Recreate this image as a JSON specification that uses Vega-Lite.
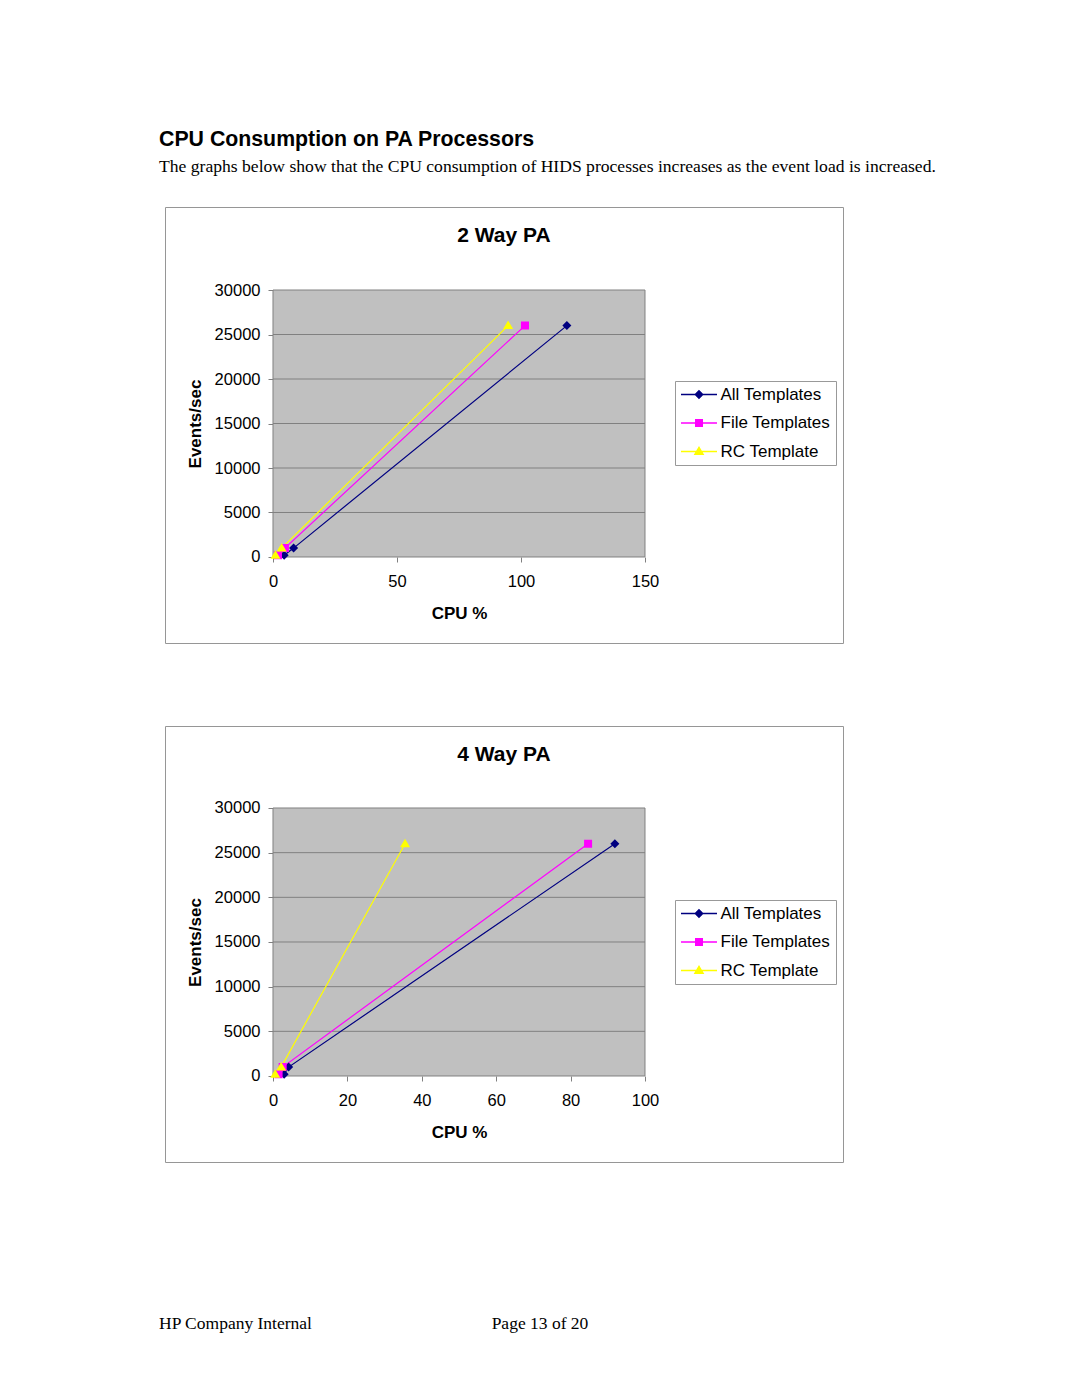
{
  "$schema": "https://vega.github.io/schema/vega-lite/v6.json",
  "background": "white",
  "padding": {"left": 159, "top": 129, "right": 0, "bottom": 0},
  "title": {
    "text": "CPU Consumption on PA Processors",
    "subtitle": "The graphs below show that the CPU consumption of HIDS processes increases as the event load is increased.",
    "anchor": "start",
    "offset": 31,
    "font": "Liberation Sans",
    "fontSize": 21.3,
    "fontWeight": "bold",
    "color": "black",
    "subtitleFont": "Liberation Serif",
    "subtitleFontSize": 17.6,
    "subtitleColor": "black",
    "subtitlePadding": 7.2
  },
  "datasets": {
    "twoway": [
      {"series": "All Templates", "cpu": 4.5, "events": 200},
      {"series": "All Templates", "cpu": 8.3, "events": 1000},
      {"series": "All Templates", "cpu": 118.5, "events": 26000},
      {"series": "File Templates", "cpu": 2.0, "events": 200},
      {"series": "File Templates", "cpu": 4.8, "events": 1000},
      {"series": "File Templates", "cpu": 101.6, "events": 26000},
      {"series": "RC Template", "cpu": 1.0, "events": 200},
      {"series": "RC Template", "cpu": 3.5, "events": 1000},
      {"series": "RC Template", "cpu": 94.8, "events": 26000}
    ],
    "fourway": [
      {"series": "All Templates", "cpu": 3.0, "events": 200},
      {"series": "All Templates", "cpu": 4.2, "events": 1000},
      {"series": "All Templates", "cpu": 91.9, "events": 26000},
      {"series": "File Templates", "cpu": 1.5, "events": 200},
      {"series": "File Templates", "cpu": 2.6, "events": 1000},
      {"series": "File Templates", "cpu": 84.7, "events": 26000},
      {"series": "RC Template", "cpu": 0.6, "events": 200},
      {"series": "RC Template", "cpu": 2.2, "events": 1000},
      {"series": "RC Template", "cpu": 35.5, "events": 26000}
    ],
    "grid": [
      {"g": 5000}, {"g": 10000}, {"g": 15000}, {"g": 20000}, {"g": 25000}
    ]
  },
  "spacing": 83,
  "bounds": "flush",
  "resolve": {"scale": {"color": "independent", "shape": "independent", "stroke": "independent"}},
  "vconcat": [
    {
      "width": 678,
      "height": 436,
      "view": {"stroke": "#969696", "strokeWidth": 1, "fill": "white"},
      "title": {"text": "2 Way PA", "font": "Liberation Sans", "fontSize": 21, "fontWeight": "bold", "color": "black", "offset": -39, "anchor": "middle"},
      "layer": [
        {
          "data": {"values": [{}]},
          "mark": {"type": "rect", "fill": "#C0C0C0", "stroke": "#808080", "strokeWidth": 1},
          "encoding": {
            "x": {"datum": 0, "type": "quantitative", "scale": {"domain": [-43.548, 229.839], "nice": false, "zero": false}},
            "x2": {"datum": 150},
            "y": {"datum": 0, "type": "quantitative", "scale": {"domain": [-9663, 39326], "nice": false, "zero": false}},
            "y2": {"datum": 30000}
          }
        },
        {
          "data": {"name": "grid"},
          "mark": {"type": "rule", "color": "#808080", "strokeWidth": 1},
          "encoding": {
            "x": {"datum": 0, "type": "quantitative"},
            "x2": {"datum": 150},
            "y": {"field": "g", "type": "quantitative"}
          }
        },
        {
          "data": {"name": "twoway"},
          "mark": {"type": "line", "strokeWidth": 1.2},
          "encoding": {
            "x": {"field": "cpu", "type": "quantitative", "scale": {"domain": [-43.548, 229.839], "nice": false, "zero": false},
              "axis": {"values": [0, 50, 100, 150], "format": "d", "offset": -86, "domain": false, "grid": false, "ticks": true, "tickSize": 5, "tickColor": "#808080", "tickWidth": 1, "labelFont": "Liberation Sans", "labelFontSize": 16.5, "labelColor": "black", "labelPadding": 11, "labelFlush": false, "title": "CPU %", "titleFont": "Liberation Sans", "titleFontSize": 17, "titleFontWeight": "bold", "titleColor": "black", "titleX": 294, "titlePadding": 16}},
            "y": {"field": "events", "type": "quantitative", "scale": {"domain": [-9663, 39326], "nice": false, "zero": false},
              "axis": {"values": [0, 5000, 10000, 15000, 20000, 25000, 30000], "format": "d", "offset": -108, "domain": false, "grid": false, "ticks": true, "tickSize": 5, "tickColor": "#808080", "tickWidth": 1, "labelFont": "Liberation Sans", "labelFontSize": 16.5, "labelColor": "black", "labelPadding": 8, "title": "Events/sec", "titleFont": "Liberation Sans", "titleFontSize": 17, "titleFontWeight": "bold", "titleColor": "black", "titleY": 216.5, "titlePadding": 10}},
            "stroke": {"field": "series", "type": "nominal", "scale": {"domain": ["All Templates", "File Templates", "RC Template"], "range": ["#000080", "#FF00FF", "#FFFF00"]},
              "legend": {"title": null, "orient": "none", "legendX": 510, "legendY": 174, "direction": "vertical", "padding": 5, "strokeColor": "#999999", "fillColor": "white", "labelFont": "Liberation Sans", "labelFontSize": 17, "labelColor": "black", "labelOffset": 13, "symbolOffset": 10.5, "symbolSize": 196, "symbolStrokeWidth": 1.3, "rowPadding": 10.5, "labelLimit": 0}}
          }
        },
        {
          "data": {"name": "twoway"},
          "mark": {"type": "point", "filled": true, "opacity": 1, "size": 280},
          "encoding": {
            "x": {"field": "cpu", "type": "quantitative"},
            "y": {"field": "events", "type": "quantitative"},
            "color": {"field": "series", "type": "nominal", "scale": {"domain": ["All Templates", "File Templates", "RC Template"], "range": ["#000080", "#FF00FF", "#FFFF00"]},
              "legend": {"title": null, "orient": "none", "legendX": 510, "legendY": 174, "direction": "vertical", "padding": 5, "strokeColor": "#999999", "fillColor": "white", "labelFont": "Liberation Sans", "labelFontSize": 17, "labelColor": "black", "labelOffset": 13, "symbolOffset": 10.5, "symbolSize": 196, "symbolStrokeWidth": 1.3, "rowPadding": 10.5, "labelLimit": 0}},
            "shape": {"field": "series", "type": "nominal", "scale": {"domain": ["All Templates", "File Templates", "RC Template"], "range": ["M-2.571,0H2.571M-0.54,0L0,-0.54L0.54,0L0,0.54Z", "M-2.571,0H2.571M-0.48,-0.48H0.48V0.48H-0.48Z", "M-2.571,0H2.571M-0.6,0.42L0,-0.6L0.6,0.42Z"]},
              "legend": {"title": null, "orient": "none", "legendX": 510, "legendY": 174, "direction": "vertical", "padding": 5, "strokeColor": "#999999", "fillColor": "white", "labelFont": "Liberation Sans", "labelFontSize": 17, "labelColor": "black", "labelOffset": 13, "symbolOffset": 10.5, "symbolSize": 196, "symbolStrokeWidth": 1.3, "rowPadding": 10.5, "labelLimit": 0}}
          }
        }
      ]
    },
    {
      "width": 678,
      "height": 436,
      "view": {"stroke": "#969696", "strokeWidth": 1, "fill": "white"},
      "title": {"text": "4 Way PA", "font": "Liberation Sans", "fontSize": 21, "fontWeight": "bold", "color": "black", "offset": -39, "anchor": "middle"},
      "layer": [
        {
          "data": {"values": [{}]},
          "mark": {"type": "rect", "fill": "#C0C0C0", "stroke": "#808080", "strokeWidth": 1},
          "encoding": {
            "x": {"datum": 0, "type": "quantitative", "scale": {"domain": [-29.032, 153.226], "nice": false, "zero": false}},
            "x2": {"datum": 100},
            "y": {"datum": 0, "type": "quantitative", "scale": {"domain": [-9627, 39179], "nice": false, "zero": false}},
            "y2": {"datum": 30000}
          }
        },
        {
          "data": {"name": "grid"},
          "mark": {"type": "rule", "color": "#808080", "strokeWidth": 1},
          "encoding": {
            "x": {"datum": 0, "type": "quantitative"},
            "x2": {"datum": 100},
            "y": {"field": "g", "type": "quantitative"}
          }
        },
        {
          "data": {"name": "fourway"},
          "mark": {"type": "line", "strokeWidth": 1.2},
          "encoding": {
            "x": {"field": "cpu", "type": "quantitative", "scale": {"domain": [-29.032, 153.226], "nice": false, "zero": false},
              "axis": {"values": [0, 20, 40, 60, 80, 100], "format": "d", "offset": -86, "domain": false, "grid": false, "ticks": true, "tickSize": 5, "tickColor": "#808080", "tickWidth": 1, "labelFont": "Liberation Sans", "labelFontSize": 16.5, "labelColor": "black", "labelPadding": 11, "labelFlush": false, "title": "CPU %", "titleFont": "Liberation Sans", "titleFontSize": 17, "titleFontWeight": "bold", "titleColor": "black", "titleX": 294, "titlePadding": 16}},
            "y": {"field": "events", "type": "quantitative", "scale": {"domain": [-9627, 39179], "nice": false, "zero": false},
              "axis": {"values": [0, 5000, 10000, 15000, 20000, 25000, 30000], "format": "d", "offset": -108, "domain": false, "grid": false, "ticks": true, "tickSize": 5, "tickColor": "#808080", "tickWidth": 1, "labelFont": "Liberation Sans", "labelFontSize": 16.5, "labelColor": "black", "labelPadding": 8, "title": "Events/sec", "titleFont": "Liberation Sans", "titleFontSize": 17, "titleFontWeight": "bold", "titleColor": "black", "titleY": 216, "titlePadding": 10}},
            "stroke": {"field": "series", "type": "nominal", "scale": {"domain": ["All Templates", "File Templates", "RC Template"], "range": ["#000080", "#FF00FF", "#FFFF00"]},
              "legend": {"title": null, "orient": "none", "legendX": 510, "legendY": 174, "direction": "vertical", "padding": 5, "strokeColor": "#999999", "fillColor": "white", "labelFont": "Liberation Sans", "labelFontSize": 17, "labelColor": "black", "labelOffset": 13, "symbolOffset": 10.5, "symbolSize": 196, "symbolStrokeWidth": 1.3, "rowPadding": 10.5, "labelLimit": 0}}
          }
        },
        {
          "data": {"name": "fourway"},
          "mark": {"type": "point", "filled": true, "opacity": 1, "size": 280},
          "encoding": {
            "x": {"field": "cpu", "type": "quantitative"},
            "y": {"field": "events", "type": "quantitative"},
            "color": {"field": "series", "type": "nominal", "scale": {"domain": ["All Templates", "File Templates", "RC Template"], "range": ["#000080", "#FF00FF", "#FFFF00"]},
              "legend": {"title": null, "orient": "none", "legendX": 510, "legendY": 174, "direction": "vertical", "padding": 5, "strokeColor": "#999999", "fillColor": "white", "labelFont": "Liberation Sans", "labelFontSize": 17, "labelColor": "black", "labelOffset": 13, "symbolOffset": 10.5, "symbolSize": 196, "symbolStrokeWidth": 1.3, "rowPadding": 10.5, "labelLimit": 0}},
            "shape": {"field": "series", "type": "nominal", "scale": {"domain": ["All Templates", "File Templates", "RC Template"], "range": ["M-2.571,0H2.571M-0.54,0L0,-0.54L0.54,0L0,0.54Z", "M-2.571,0H2.571M-0.48,-0.48H0.48V0.48H-0.48Z", "M-2.571,0H2.571M-0.6,0.42L0,-0.6L0.6,0.42Z"]},
              "legend": {"title": null, "orient": "none", "legendX": 510, "legendY": 174, "direction": "vertical", "padding": 5, "strokeColor": "#999999", "fillColor": "white", "labelFont": "Liberation Sans", "labelFontSize": 17, "labelColor": "black", "labelOffset": 13, "symbolOffset": 10.5, "symbolSize": 196, "symbolStrokeWidth": 1.3, "rowPadding": 10.5, "labelLimit": 0}}
          }
        }
      ]
    },
    {
      "width": 375,
      "height": 150,
      "view": {"stroke": null},
      "data": {"values": [{"label": "HP Company Internal"}, {"label": "Page 13 of 20"}]},
      "layer": [
        {
          "transform": [{"filter": "datum.label === 'HP Company Internal'"}],
          "mark": {"type": "text", "align": "left", "baseline": "alphabetic", "dx": -6, "dy": 9, "font": "Liberation Serif", "fontSize": 17.5, "color": "black"},
          "encoding": {
            "x": {"field": "label", "type": "nominal", "scale": {"type": "point", "padding": 0, "domain": ["HP Company Internal", "Page 13 of 20"]}, "axis": null},
            "text": {"field": "label"}
          }
        },
        {
          "transform": [{"filter": "datum.label === 'Page 13 of 20'"}],
          "mark": {"type": "text", "align": "center", "baseline": "alphabetic", "dy": 9, "font": "Liberation Serif", "fontSize": 17.5, "color": "black"},
          "encoding": {
            "x": {"field": "label", "type": "nominal", "scale": {"type": "point", "padding": 0, "domain": ["HP Company Internal", "Page 13 of 20"]}, "axis": null},
            "text": {"field": "label"}
          }
        }
      ]
    }
  ]
}
